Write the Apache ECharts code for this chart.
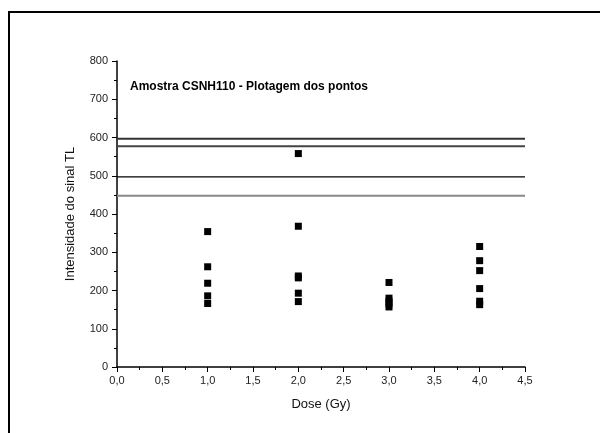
<!DOCTYPE html>
<html>
<head>
<meta charset="utf-8">
<script src="https://cdn.jsdelivr.net/npm/echarts@6/dist/echarts.min.js"></script>
<style>html,body{margin:0;padding:0;background:#fff}#c{width:600px;height:433px}</style>
</head>
<body>
<div id="c"></div>
<script>
const doses1 = [1, 1, 1, 1, 1];
const vals1 = [354, 262, 219, 186, 166];
const doses2 = [2, 2, 2, 2, 2, 2];
const vals2 = [558, 368, 238, 233, 193, 171];
const doses3 = [3, 3, 3, 3, 3];
const vals3 = [221, 180, 172, 165, 157];
const doses4 = [4, 4, 4, 4, 4, 4];
const vals4 = [315, 278, 252, 205, 172, 163];
const refLines = [597, 577, 497, 448];
const refColors = ['#333', '#444', '#000', '#888'];
const refWidths = [2, 2, 1.2, 2];
const xRange = [0, 4.5];
const title = 'Amostra CSNH110 - Plotagem dos pontos';

const pts = [];
[[doses1, vals1], [doses2, vals2], [doses3, vals3], [doses4, vals4]].forEach(([d, v]) => {
  d.forEach((x, i) => pts.push([x, v[i]]));
});

const series = refLines.map((v, i) => ({
  type: 'line', data: [[xRange[0], v], [xRange[1], v]], symbol: 'none', silent: true,
  lineStyle: { color: refColors[i], width: refWidths[i] }, z: 1
}));
series.push({
  type: 'scatter', data: pts, symbol: 'rect', symbolSize: 7,
  itemStyle: { color: '#000', opacity: 1 }, z: 3
});

const chart = echarts.init(document.getElementById('c'), null, { renderer: 'canvas' });
const fmt = v => v.toFixed(1).replace('.', ',');
chart.setOption({
  animation: false,
  backgroundColor: '#fff',
  grid: { left: 117, right: 75, top: 61, bottom: 66 },
  xAxis: {
    type: 'value', min: 0, max: 4.5, interval: 0.5,
    name: 'Dose (Gy)', nameLocation: 'middle', nameGap: 31,
    nameTextStyle: { fontFamily: 'Liberation Sans', fontSize: 13, color: '#111' },
    axisLine: { lineStyle: { color: '#000', width: 1.5 } },
    axisTick: { show: true, length: 5, lineStyle: { color: '#000' } },
    minorTick: { show: true, splitNumber: 2, length: 3, lineStyle: { color: '#000' } },
    splitLine: { show: false },
    axisLabel: { formatter: fmt, fontFamily: 'Liberation Sans', fontSize: 11, color: '#222', margin: 8 }
  },
  yAxis: {
    type: 'value', min: 0, max: 800, interval: 100,
    name: 'Intensidade do sinal TL', nameLocation: 'middle', nameGap: 40,
    nameTextStyle: { fontFamily: 'Liberation Sans', fontSize: 13, color: '#111' },
    axisLine: { show: true, lineStyle: { color: '#000', width: 1.5 } },
    axisTick: { show: true, length: 5, lineStyle: { color: '#000' } },
    minorTick: { show: true, splitNumber: 2, length: 3, lineStyle: { color: '#000' } },
    splitLine: { show: false },
    axisLabel: { fontFamily: 'Liberation Sans', fontSize: 11, color: '#222', margin: 9 }
  },
  graphic: [
    { type: 'line', shape: { x1: 8, y1: 12, x2: 600, y2: 12 }, style: { stroke: '#000', lineWidth: 2 } },
    { type: 'line', shape: { x1: 9, y1: 12, x2: 9, y2: 433 }, style: { stroke: '#000', lineWidth: 2 } },
    { type: 'text', left: 130, top: 81, style: { text: title, font: 'bold 12px "Liberation Sans"', fill: '#000' } }
  ],
  series: series
});
</script>
</body>
</html>
